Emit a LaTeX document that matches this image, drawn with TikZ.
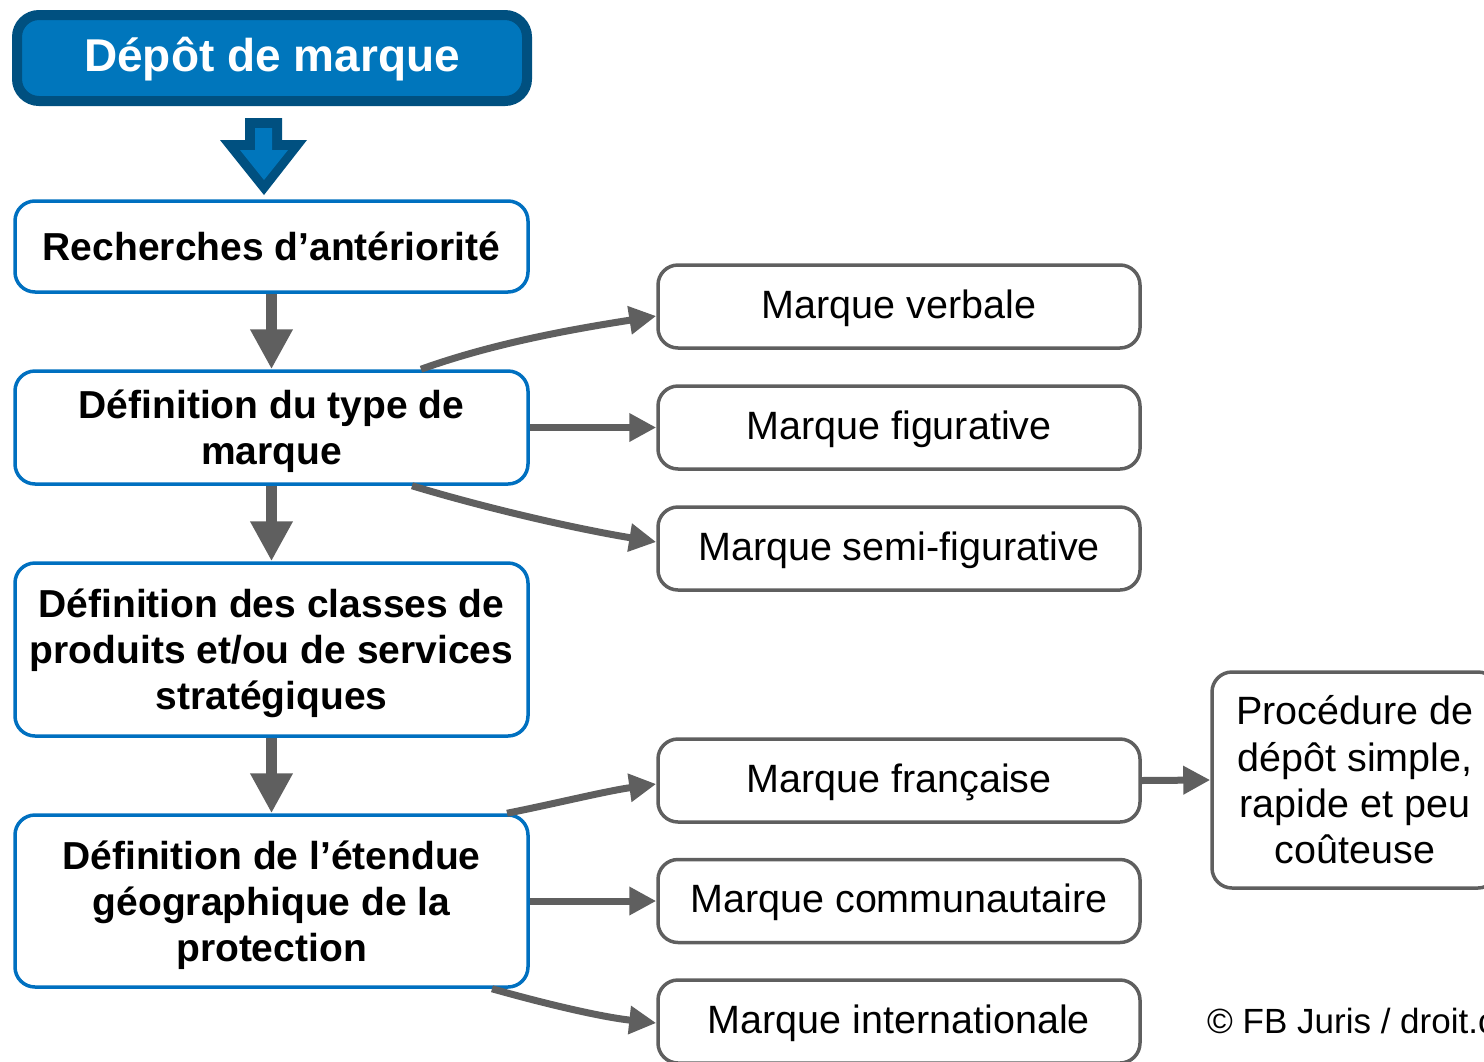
\documentclass[tikz,border=0pt]{standalone}
\usepackage{fontspec}
\setmainfont{Liberation Sans}
\usetikzlibrary{arrows.meta,calc}
\definecolor{titlefill}{RGB}{0,118,188}
\definecolor{titledark}{RGB}{0,80,128}
\definecolor{boxblue}{RGB}{0,112,192}
\definecolor{arrgray}{RGB}{95,95,95}
\begin{document}
\begin{tikzpicture}[x=1pt,y=-1pt,
  leftbox/.style={draw=boxblue, line width=3.5pt, rounded corners=20pt, fill=white,
    minimum width=513pt, align=center, inner sep=0pt,
    font=\fontsize{39}{46}\selectfont\bfseries},
  rightbox/.style={draw=arrgray, line width=3.5pt, rounded corners=20pt, fill=white,
    minimum width=482pt, minimum height=83pt, align=center, inner sep=0pt,
    font=\fontsize{39.5}{46.3}\selectfont},
  oneline/.style={text height=28.8pt, text depth=5.2pt},
  vconn/.style={draw=arrgray, line width=11pt, -{Triangle[length=40pt,width=40pt]}},
  hconn/.style={draw=arrgray, line width=7pt, -{Triangle[length=27pt,width=27pt]}},
]
\useasboundingbox (0,0) rectangle (1484,1061);
\clip (0,0) rectangle (1484,1061);

% title
\node[draw=titledark, fill=titlefill, line width=10pt, rounded corners=22pt,
  minimum width=510pt, minimum height=86pt, inner sep=0pt, text=white,
  text height=34pt, text depth=6.6pt,
  font=\fontsize{46}{52}\selectfont\bfseries] (t) at (272,58) {Dépôt de marque};

% block arrow
\fill[titledark] (245,118) -- (282,118) -- (282,140) -- (307,140) -- (264,195) -- (220,140) -- (245,140) -- cycle;
\fill[titlefill] (255,128) -- (272,128) -- (272,150) -- (288,150) -- (264,180) -- (240,150) -- (255,150) -- cycle;

% left column
\node[leftbox, minimum height=91pt, text height=28.9pt, text depth=1.9pt] (b1) at (271.5,246.5) {Recherches d’antériorité};
\node[leftbox, minimum height=113pt, text depth=0pt] (b2) at (271.5,427.5) {Définition du type de\\marque};
\node[leftbox, minimum height=173pt, text depth=0pt] (b3) at (271.5,649.5) {Définition des classes de\\produits et/ou de services\\stratégiques};
\node[leftbox, minimum height=172pt, text depth=0pt] (b4) at (271.5,901) {Définition de l’étendue\\géographique de la\\protection};

% right column
\node[rightbox, oneline] (rv) at (899,306.5) {Marque verbale};
\node[rightbox, oneline] (rf) at (899,427.5) {Marque figurative};
\node[rightbox, oneline] (rs) at (899,548.5) {Marque semi-figurative};
\node[rightbox, oneline] (rfr) at (899,780.5) {Marque française};
\node[rightbox, oneline] (rc) at (899,901) {Marque communautaire};
\node[rightbox, oneline] (ri) at (899,1021.5) {Marque internationale};

\node[rightbox, minimum width=286pt, minimum height=216pt] (p) at (1355,780)
  {Procédure de\\dépôt simple,\\rapide et peu\\coûteuse};

\node[anchor=west, inner sep=0pt, font=\fontsize{35}{40}\selectfont] (c) at (1207,1021) {© FB Juris / droit.com};

% vertical connectors
\draw[vconn] (b1.south) -- (b2.north);
\draw[vconn] (b2.south) -- (b3.north);
\draw[vconn] (b3.south) -- (b4.north);

% horizontal / curved connectors
\draw[hconn] ($(b2.north)+(149.5,0)$) .. controls +(75,-27) and +(-79,12.5) .. ($(rv.west)+(0,9.5)$);
\draw[hconn] (b2.east) -- (rf.west);
\draw[hconn] ($(b2.south)+(140.5,0)$) .. controls +(76,23) and +(-79,-13) .. ($(rs.west)+(0,-6.5)$);

\draw[hconn] ($(b4.north)+(235.5,0)$) .. controls +(50,-10) and +(-50,7) .. ($(rfr.west)+(0,3.5)$);
\draw[hconn] (b4.east) -- (rc.west);
\draw[hconn] ($(b4.south)+(220.5,0)$) .. controls +(53,15) and +(-55,-6) .. ($(ri.west)+(0,1.5)$);

\draw[hconn] (rfr.east) -- (p.west);
\end{tikzpicture}
\end{document}
